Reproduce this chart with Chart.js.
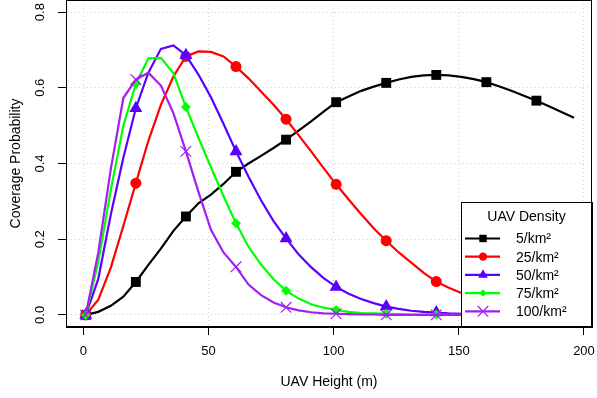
<!DOCTYPE html>
<html>
<head>
<meta charset="utf-8">
<script src="https://cdn.jsdelivr.net/npm/chart.js@4.4.0/dist/chart.umd.min.js"></script>
<style>
  html, body { margin: 0; padding: 0; background: #fff; }
  #wrap { width: 597px; height: 398px; }
</style>
</head>
<body>
<div id="wrap"><canvas id="coverageChart" width="597" height="398"></canvas></div>
<script>
// UAV heights (m) where the curves were sampled, markers every 4th point
const heights = [1, 6, 11, 16, 21, 26, 31, 36, 41, 46, 51, 56, 61, 66, 71, 76, 81, 86, 91, 96,
                 101, 106, 111, 116, 121, 126, 131, 136, 141, 146, 151, 156, 161, 166, 171, 176, 181, 186, 191, 196];

// coverage probability per UAV density
const density5 = [0.000, 0.008, 0.024, 0.048, 0.087, 0.132, 0.175, 0.222, 0.260, 0.295, 0.318, 0.346, 0.378, 0.400, 0.420, 0.441, 0.463, 0.487, 0.511, 0.537,
                  0.562, 0.577, 0.592, 0.603, 0.613, 0.622, 0.629, 0.633, 0.634, 0.633, 0.629, 0.623, 0.615, 0.604, 0.592, 0.579, 0.566, 0.551, 0.536, 0.521];
const density25 = [0.000, 0.040, 0.125, 0.235, 0.348, 0.460, 0.555, 0.630, 0.683, 0.696, 0.695, 0.683, 0.656, 0.625, 0.590, 0.555, 0.517, 0.475, 0.432, 0.388,
                   0.345, 0.305, 0.266, 0.229, 0.196, 0.165, 0.138, 0.111, 0.088, 0.072, 0.058, 0.046, 0.036, 0.028, 0.022, 0.017, 0.013, 0.010, 0.008, 0.006];
const density50 = [0.000, 0.095, 0.265, 0.415, 0.546, 0.640, 0.703, 0.712, 0.686, 0.635, 0.575, 0.505, 0.432, 0.365, 0.303, 0.248, 0.202, 0.160, 0.126, 0.097,
                   0.074, 0.056, 0.042, 0.031, 0.022, 0.016, 0.011, 0.008, 0.006, 0.004, 0.003, 0.002, 0.002, 0.001, 0.001, 0.001, 0.001, 0.000, 0.000, 0.000];
const density75 = [0.000, 0.140, 0.330, 0.500, 0.610, 0.678, 0.679, 0.638, 0.549, 0.468, 0.390, 0.314, 0.242, 0.180, 0.133, 0.094, 0.064, 0.043, 0.028, 0.019,
                   0.013, 0.008, 0.005, 0.004, 0.003, 0.002, 0.001, 0.001, 0.001, 0.000, 0.000, 0.000, 0.000, 0.000, 0.000, 0.000, 0.000, 0.000, 0.000, 0.000];
const density100 = [0.000, 0.165, 0.385, 0.573, 0.622, 0.640, 0.606, 0.533, 0.432, 0.325, 0.225, 0.165, 0.127, 0.080, 0.052, 0.033, 0.020, 0.012, 0.007, 0.004,
                    0.003, 0.002, 0.001, 0.001, 0.000, 0.000, 0.000, 0.000, 0.000, 0.000, 0.000, 0.000, 0.000, 0.000, 0.000, 0.000, 0.000, 0.000, 0.000, 0.000];

const seriesLabels = ['5/km²', '25/km²', '50/km²', '75/km²', '100/km²'];
const xTicks = [0, 50, 100, 150, 200];
const yTicks = [0, 0.2, 0.4, 0.6, 0.8];

const FONT = '"Liberation Sans", Arial, Helvetica, sans-serif';

const seriesStyle = [
    { values: density5,   color: '#000000', pointStyle: 'rect',     radius: 7,   border: 0 },
    { values: density25,  color: '#ff0000', pointStyle: 'circle',   radius: 5.5, border: 0 },
    { values: density50,  color: '#5a00ff', pointStyle: 'triangle', radius: 7.5, border: 0 },
    { values: density75,  color: '#00ff00', pointStyle: 'rectRot',  radius: 5,   border: 0 },
    { values: density100, color: '#a020f0', pointStyle: 'crossRot', radius: 7.5, border: 1.2 }
];

const datasets = [];
seriesStyle.forEach(function(s, k) {
    // the curve itself
    datasets.push({
        label: seriesLabels[k],
        data: heights.map((h, i) => ({ x: h, y: s.values[i] })),
        showLine: true,
        borderColor: s.color,
        borderWidth: 2.2,
        pointRadius: 0,
        tension: 0,
        order: 20 - k * 2
    });
    // markers every 20 m
    datasets.push({
        label: seriesLabels[k] + ' markers',
        data: heights.map((h, i) => ({ x: h, y: s.values[i] })).filter((p, i) => i % 4 === 0 && p.x <= 181),
        showLine: false,
        pointStyle: s.pointStyle,
        pointRadius: s.radius,
        pointBackgroundColor: s.color,
        pointBorderColor: s.color,
        pointBorderWidth: s.border,
        order: 19 - k * 2
    });
});

// box around the plotting region
const plotFrame = {
    id: 'plotFrame',
    afterDraw(chart) {
        const { ctx, chartArea: a } = chart;
        ctx.save();
        ctx.strokeStyle = '#000';
        ctx.lineWidth = 1;
        ctx.strokeRect(Math.round(a.left) + 0.5, Math.round(a.top) + 0.5,
                       Math.round(a.right - a.left) - 1, Math.round(a.bottom - a.top) - 1);
        ctx.restore();
    }
};

// y tick labels drawn parallel to the axis, like base R
const yTickLabels = {
    id: 'yTickLabels',
    afterDraw(chart) {
        const { ctx } = chart;
        const y = chart.scales.y;
        ctx.save();
        ctx.fillStyle = '#000';
        ctx.font = '13px ' + FONT;
        ctx.textAlign = 'center';
        ctx.textBaseline = 'middle';
        yTicks.forEach(function(v) {
            ctx.save();
            ctx.translate(40, y.getPixelForValue(v));
            ctx.rotate(-Math.PI / 2);
            ctx.fillText(v.toFixed(1), 0, 0);
            ctx.restore();
        });
        ctx.restore();
    }
};

// legend box in the lower right corner
const densityLegend = {
    id: 'densityLegend',
    afterDatasetsDraw(chart) {
        const { ctx, chartArea: a } = chart;
        const right = a.right, bottom = a.bottom;
        const left = right - 131, top = bottom - 125;
        ctx.save();
        ctx.fillStyle = '#fff';
        ctx.fillRect(left, top, right - left, bottom - top);
        ctx.strokeStyle = '#000';
        ctx.lineWidth = 1;
        ctx.strokeRect(Math.round(left) + 0.5, Math.round(top) + 0.5, right - left, bottom - top);

        ctx.fillStyle = '#000';
        ctx.font = '14px ' + FONT;
        ctx.textAlign = 'center';
        ctx.textBaseline = 'middle';
        ctx.fillText('UAV Density', (left + right) / 2, top + 15.5);

        seriesStyle.forEach(function(s, k) {
            const ry = top + 36.5 + k * 18.2;
            ctx.strokeStyle = s.color;
            ctx.lineWidth = 2.2;
            ctx.beginPath();
            ctx.moveTo(left + 4, ry);
            ctx.lineTo(left + 39, ry);
            ctx.stroke();
            ctx.fillStyle = s.color;
            ctx.lineWidth = s.border || 1;
            const r = s.pointStyle === 'crossRot' ? s.radius : s.radius * 0.75;
            Chart.helpers.drawPoint(ctx, { pointStyle: s.pointStyle, radius: r, rotation: 0, borderWidth: s.border }, left + 22, ry);
            ctx.fillStyle = '#000';
            ctx.textAlign = 'left';
            ctx.fillText(seriesLabels[k], left + 55, ry + 1);
        });
        ctx.restore();
    }
};

const ctx = document.getElementById('coverageChart');
new Chart(ctx, {
    type: 'scatter',
    data: { datasets: datasets },
    options: {
        responsive: false,
        animation: false,
        layout: { autoPadding: false, padding: { left: 0, right: 5, top: 0, bottom: 0 } },
        plugins: {
            legend: { display: false },
            tooltip: { enabled: false }
        },
        scales: {
            x: {
                type: 'linear',
                min: -6.9,
                max: 203.2,
                afterBuildTicks: function(scale) { scale.ticks = xTicks.map(v => ({ value: v })); },
                afterFit: function(scale) {
                    scale.height = 71;
                    scale.paddingLeft = 0;
                    scale.paddingRight = 0;
                },
                grid: {
                    color: '#d3d3d3',
                    tickColor: '#000',
                    tickLength: 8,
                    tickWidth: 1,
                    tickBorderDash: []
                },
                border: { display: true, color: '#000', width: 1, dash: [1, 3] },
                ticks: {
                    color: '#000',
                    padding: 9,
                    maxRotation: 0,
                    font: { family: FONT, size: 13 }
                },
                title: {
                    display: true,
                    text: 'UAV Height (m)',
                    color: '#000',
                    font: { family: FONT, size: 14 },
                    padding: { top: 0, bottom: 7 }
                }
            },
            y: {
                type: 'linear',
                min: -0.032,
                max: 0.832,
                afterBuildTicks: function(scale) { scale.ticks = yTicks.map(v => ({ value: v })); },
                afterFit: function(scale) {
                    scale.width = 66;
                    scale.paddingTop = 0;
                    scale.paddingBottom = 0;
                },
                grid: {
                    color: '#d3d3d3',
                    tickColor: '#000',
                    tickLength: 8,
                    tickWidth: 1,
                    tickBorderDash: []
                },
                border: { display: true, color: '#000', width: 1, dash: [1, 3] },
                ticks: { display: false },
                title: {
                    display: true,
                    text: 'Coverage Probability',
                    color: '#000',
                    font: { family: FONT, size: 14 },
                    padding: { top: 8, bottom: 0 }
                }
            }
        }
    },
    plugins: [plotFrame, yTickLabels, densityLegend]
});
</script>
</body>
</html>
